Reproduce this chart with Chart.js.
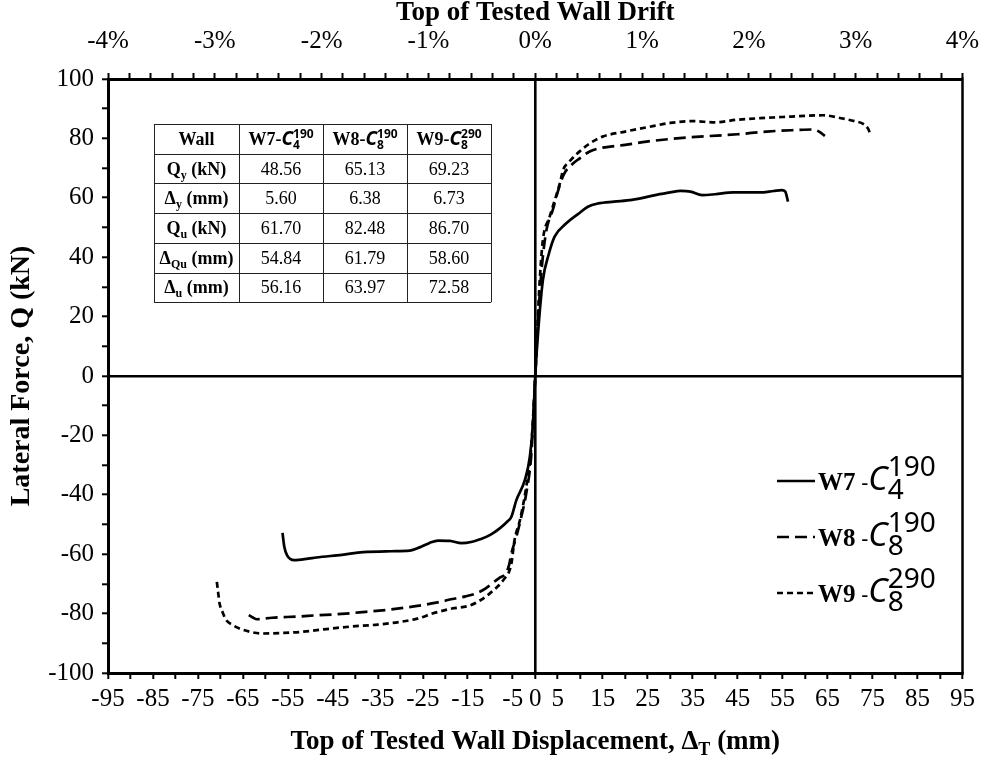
<!DOCTYPE html>
<html>
<head>
<meta charset="utf-8">
<title>Lateral force vs. top displacement</title>
<script src="https://cdn.jsdelivr.net/npm/chart.js@4.4.1/dist/chart.umd.min.js"></script>
<style>
  html, body { margin: 0; padding: 0; background: #fff; }
  #wrap { width: 984px; height: 763px; }
</style>
</head>
<body>
<div id="wrap"><canvas id="c" width="984" height="763"></canvas></div>
<script>
// ---- Backbone curves: top displacement (mm) and lateral force (kN) ----
const w7Disp  = [-56.2, -55.8, -55.2, -53.6, -50.5, -48.7, -43.0, -38.3, -32.0, -27.9, -25.7, -23.5, -21.6, -19.0, -16.4, -14.0, -12.3, -10.0, -7.9, -6.2, -5.3, -4.2, -2.3, -1.2, -0.5, 0.0, 0.7, 1.7, 3.0, 4.3, 6.9, 9.5, 11.7, 14.0, 17.5, 21.5, 26.7, 30.0, 32.3, 34.5, 37.1, 40.0, 44.0, 50.0, 53.0, 54.8, 55.6, 56.2];
const w7Force = [-52.8, -57.5, -60.3, -62.0, -61.5, -61.1, -60.2, -59.3, -59.0, -58.8, -57.7, -56.2, -55.4, -55.5, -56.3, -55.8, -55.0, -53.5, -51.3, -49.0, -47.4, -41.8, -35.0, -27.2, -15.9, 0.0, 16.0, 32.3, 41.0, 46.9, 51.4, 54.5, 57.0, 58.1, 58.7, 59.3, 60.9, 61.8, 62.3, 62.1, 60.9, 61.2, 61.8, 61.8, 62.3, 62.6, 62.1, 58.7];

const w8Disp  = [-63.7, -62.8, -61.9, -58.5, -53.0, -48.8, -43.0, -37.7, -32.0, -26.6, -22.0, -18.4, -15.5, -13.2, -11.0, -9.4, -7.8, -6.5, -5.8, -5.3, -4.2, -3.1, -2.0, -0.8, 0.0, 0.6, 1.4, 2.5, 3.9, 5.0, 6.3, 8.0, 9.9, 12.0, 14.3, 17.0, 20.0, 24.7, 30.0, 36.6, 45.0, 51.4, 58.0, 61.8, 63.2, 64.4];
const w8Force = [-80.5, -81.3, -81.9, -81.4, -81.0, -80.6, -80.1, -79.4, -78.6, -77.5, -76.3, -75.1, -74.2, -73.2, -71.5, -69.6, -67.8, -66.4, -63.5, -59.7, -54.1, -47.4, -39.5, -24.9, 0.0, 18.0, 35.7, 49.2, 55.9, 62.0, 67.7, 71.0, 73.3, 75.5, 76.7, 77.3, 77.8, 78.9, 79.8, 80.6, 81.4, 82.3, 82.8, 83.0, 82.2, 80.8];

const w9Disp  = [-70.8, -70.5, -70.2, -69.5, -68.7, -67.3, -65.8, -63.5, -60.9, -56.0, -52.4, -47.0, -41.3, -35.0, -30.1, -26.0, -22.7, -18.5, -14.6, -12.2, -10.1, -8.3, -6.8, -5.8, -5.3, -4.6, -3.4, -2.0, -1.0, 0.0, 0.5, 1.0, 1.7, 3.2, 4.5, 5.5, 6.2, 7.6, 10.0, 12.1, 15.0, 20.0, 25.0, 30.0, 35.0, 40.0, 45.0, 50.0, 55.0, 60.0, 64.0, 68.0, 71.0, 73.0, 74.0, 74.6];
const w9Force = [-69.3, -73.0, -76.5, -79.6, -82.2, -83.8, -85.0, -86.1, -86.7, -86.5, -86.2, -85.3, -84.4, -83.7, -82.8, -81.6, -79.9, -78.3, -77.3, -75.5, -73.2, -70.8, -68.1, -65.8, -63.1, -55.2, -48.5, -37.3, -26.0, 0.0, 17.0, 32.3, 45.8, 53.6, 60.0, 65.0, 69.4, 72.2, 75.8, 78.3, 80.6, 82.3, 83.8, 85.2, 85.8, 85.4, 86.3, 86.8, 87.2, 87.6, 87.8, 86.8, 85.8, 84.8, 83.3, 81.0];

// ---- Axis tick labels ----
const dispTickLabels  = [-95, -85, -75, -65, -55, -45, -35, -25, -15, -5, 0, 5, 15, 25, 35, 45, 55, 65, 75, 85, 95];
const driftTickLabels = [-4, -3, -2, -1, 0, 1, 2, 3, 4];
const forceTickLabels = [-100, -80, -60, -40, -20, 0, 20, 40, 60, 80, 100];

// ---- Summary table ----
const wallNames = ['W7', 'W8', 'W9'];
const wallSub   = ['4', '8', '8'];
const wallSup   = ['190', '190', '290'];
const qy   = [48.56, 65.13, 69.23];
const dy   = [5.60, 6.38, 6.73];
const qu   = [61.70, 82.48, 86.70];
const dqu  = [54.84, 61.79, 58.60];
const du   = [56.16, 63.97, 72.58];

const SERIF = '"Liberation Serif", "Times New Roman", serif';
const MATH  = '"Noto Sans", "DejaVu Sans", sans-serif';

const dashes = { W7: [], W8: [12, 6], W9: [6, 4] };

function series(name, xs, ys) {
  return {
    label: name,
    data: xs.map((x, i) => ({ x: x, y: ys[i] })),
    borderColor: '#000',
    borderWidth: 2.7,
    borderDash: dashes[name],
    pointRadius: 0,
    fill: false,
    cubicInterpolationMode: 'monotone',
    xAxisID: 'x',
    yAxisID: 'y'
  };
}

function stepTicks(min, max, step) {
  const out = [];
  const n = Math.round((max - min) / step);
  for (let i = 0; i <= n; i++) out.push({ value: Math.round((min + i * step) * 1000) / 1000 });
  return out;
}

// horizontal axes: fixed box height, no automatic side padding for end labels
function fixHeight(h) {
  return s => { s.height = h; s.paddingLeft = 0; s.paddingRight = 0; };
}

const zeroGrid = {
  drawOnChartArea: true,
  color: c => (c.tick && c.tick.value === 0) ? '#000' : 'rgba(0,0,0,0)',
  lineWidth: 2.6,
  tickColor: '#000',
  tickWidth: 2,
  tickLength: 6
};

// ---- rich text helpers (sub/superscripts) ----
function partWidth(ctx, p) {
  if (p.stack) return Math.max.apply(null, p.stack.map(q => partWidth(ctx, q)));
  ctx.font = p.font;
  return ctx.measureText(p.t).width;
}
function drawRich(ctx, parts, x, y, align) {
  const total = parts.reduce((s, p) => s + partWidth(ctx, p), 0);
  let cx = align === 'center' ? x - total / 2 : x;
  ctx.textAlign = 'left';
  ctx.textBaseline = 'alphabetic';
  ctx.fillStyle = '#000';
  for (const p of parts) {
    const list = p.stack || [p];
    for (const q of list) {
      ctx.font = q.font;
      ctx.fillText(q.t, cx, y + (q.dy || 0));
    }
    cx += partWidth(ctx, p);
  }
}

function drawTable(ctx) {
  const left = 154, top = 124, cols = [85, 84, 84, 84], rowH = 29.7;
  const B = 'bold 18px ' + SERIF, R = '18px ' + SERIF, BS = 'bold 12px ' + SERIF;
  const rows = [
    { lab: [{ t: 'Q', font: B }, { t: 'y', font: BS, dy: 4 }, { t: ' (kN)', font: B }], vals: qy },
    { lab: [{ t: 'Δ', font: B }, { t: 'y', font: BS, dy: 4 }, { t: ' (mm)', font: B }], vals: dy },
    { lab: [{ t: 'Q', font: B }, { t: 'u', font: BS, dy: 4 }, { t: ' (kN)', font: B }], vals: qu },
    { lab: [{ t: 'Δ', font: B }, { t: 'Qu', font: BS, dy: 4 }, { t: ' (mm)', font: B }], vals: dqu },
    { lab: [{ t: 'Δ', font: B }, { t: 'u', font: BS, dy: 4 }, { t: ' (mm)', font: B }], vals: du }
  ];
  const width = cols.reduce((a, b) => a + b, 0);
  const height = rowH * (rows.length + 1);
  ctx.fillStyle = '#fff';
  ctx.fillRect(left, top, width, height);
  ctx.strokeStyle = '#222';
  ctx.lineWidth = 1;
  ctx.beginPath();
  for (let r = 0; r <= rows.length + 1; r++) {
    const y = Math.round(top + r * rowH) + 0.5;
    ctx.moveTo(left, y); ctx.lineTo(left + width, y);
  }
  let xx = left;
  for (let c = 0; c <= cols.length; c++) {
    const x = Math.round(xx) + 0.5;
    ctx.moveTo(x, top); ctx.lineTo(x, top + height);
    xx += cols[c] || 0;
  }
  ctx.stroke();

  const centers = [];
  let acc = left;
  for (const w of cols) { centers.push(acc + w / 2); acc += w; }
  const base = r => top + r * rowH + rowH / 2 + 6;

  drawRich(ctx, [{ t: 'Wall', font: B }], centers[0], base(0), 'center');
  for (let i = 0; i < wallNames.length; i++) {
    drawRich(ctx, [
      { t: wallNames[i] + '-', font: B },
      { t: 'C', font: 'italic bold 19px ' + MATH },
      { stack: [
        { t: wallSup[i], font: 'bold 12px ' + MATH, dy: -7 },
        { t: wallSub[i], font: 'bold 12px ' + MATH, dy: 4 }
      ] }
    ], centers[i + 1], base(0), 'center');
  }
  rows.forEach((row, r) => {
    drawRich(ctx, row.lab, centers[0], base(r + 1), 'center');
    row.vals.forEach((v, i) => drawRich(ctx, [{ t: v.toFixed(2), font: R }], centers[i + 1], base(r + 1), 'center'));
  });
}

function drawLegend(ctx) {
  const x0 = 777, x1 = 815, y0 = 481, gap = 56;
  wallNames.forEach((name, i) => {
    const y = y0 + i * gap;
    ctx.save();
    ctx.strokeStyle = '#000';
    ctx.lineWidth = 2.7;
    ctx.setLineDash(dashes[name]);
    ctx.beginPath();
    ctx.moveTo(x0, y); ctx.lineTo(x1, y);
    ctx.stroke();
    ctx.restore();
    drawRich(ctx, [
      { t: name, font: 'bold 25px ' + SERIF },
      { t: ' -', font: '22px ' + MATH },
      { t: 'C', font: 'italic 33px ' + MATH },
      { stack: [
        { t: wallSup[i], font: '28px ' + MATH, dy: -14 },
        { t: wallSub[i], font: '28px ' + MATH, dy: 9 }
      ] }
    ], x1 + 3, y + 9, 'left');
  });
}

const overlay = {
  id: 'overlay',
  afterDraw(chart) {
    const ctx = chart.ctx, a = chart.chartArea;
    ctx.save();
    // right edge of the plot frame
    ctx.strokeStyle = '#000';
    ctx.lineWidth = 2.5;
    ctx.beginPath();
    ctx.moveTo(a.right, a.top - 1.5);
    ctx.lineTo(a.right, a.bottom + 1.5);
    ctx.stroke();
    // bottom axis title with subscript
    drawRich(ctx, [
      { t: 'Top of Tested Wall Displacement, Δ', font: 'bold 27px ' + SERIF },
      { t: 'T', font: 'bold 18px ' + SERIF, dy: 6 },
      { t: ' (mm)', font: 'bold 27px ' + SERIF }
    ], (a.left + a.right) / 2, 749, 'center');
    drawTable(ctx);
    drawLegend(ctx);
    ctx.restore();
  }
};

new Chart(document.getElementById('c'), {
  type: 'line',
  data: {
    datasets: [
      series('W7', w7Disp, w7Force),
      series('W8', w8Disp, w8Force),
      series('W9', w9Disp, w9Force)
    ]
  },
  options: {
    responsive: false,
    animation: false,
    devicePixelRatio: 1,
    layout: { padding: { left: 0, right: 21.5, top: 0, bottom: 0 } },
    plugins: { legend: { display: false }, tooltip: { enabled: false } },
    scales: {
      x: {
        type: 'linear', position: 'bottom', min: -95, max: 95,
        afterBuildTicks: s => { s.ticks = stepTicks(-95, 95, 5); },
        afterFit: fixHeight(90),
        ticks: {
          autoSkip: false, maxRotation: 0, minRotation: 0, padding: 5, color: '#000',
          font: { family: SERIF, size: 25 },
          callback: v => dispTickLabels.includes(v) ? String(v) : ''
        },
        grid: zeroGrid,
        border: { display: true, color: '#000', width: 3 }
      },
      x2: {
        type: 'linear', position: 'top', min: -4, max: 4,
        afterBuildTicks: s => { s.ticks = stepTicks(-4, 4, 0.2); },
        afterFit: fixHeight(79),
        ticks: {
          autoSkip: false, maxRotation: 0, minRotation: 0, padding: 17, color: '#000',
          font: { family: SERIF, size: 25 },
          callback: v => driftTickLabels.includes(v) ? v + '%' : ''
        },
        grid: { drawOnChartArea: false, tickColor: '#000', tickWidth: 2, tickLength: 6 },
        border: { display: true, color: '#000', width: 3 },
        title: {
          display: true, text: 'Top of Tested Wall Drift', color: '#000',
          font: { family: SERIF, size: 27, weight: 'bold', lineHeight: 1.0 },
          padding: { top: 0, bottom: 0 }
        }
      },
      y: {
        type: 'linear', position: 'left', min: -100, max: 100,
        afterBuildTicks: s => { s.ticks = stepTicks(-100, 100, 10); },
        afterFit: s => { s.width = 108; },
        ticks: {
          autoSkip: false, padding: 8, color: '#000',
          font: { family: SERIF, size: 25 },
          callback: v => forceTickLabels.includes(v) ? String(v) : ''
        },
        grid: zeroGrid,
        border: { display: true, color: '#000', width: 3 },
        title: {
          display: true, text: 'Lateral Force, Q (kN)', color: '#000',
          font: { family: SERIF, size: 28, weight: 'bold', lineHeight: 1.2 },
          padding: { top: 5, bottom: 0 }
        }
      }
    }
  },
  plugins: [overlay]
});
</script>
</body>
</html>
